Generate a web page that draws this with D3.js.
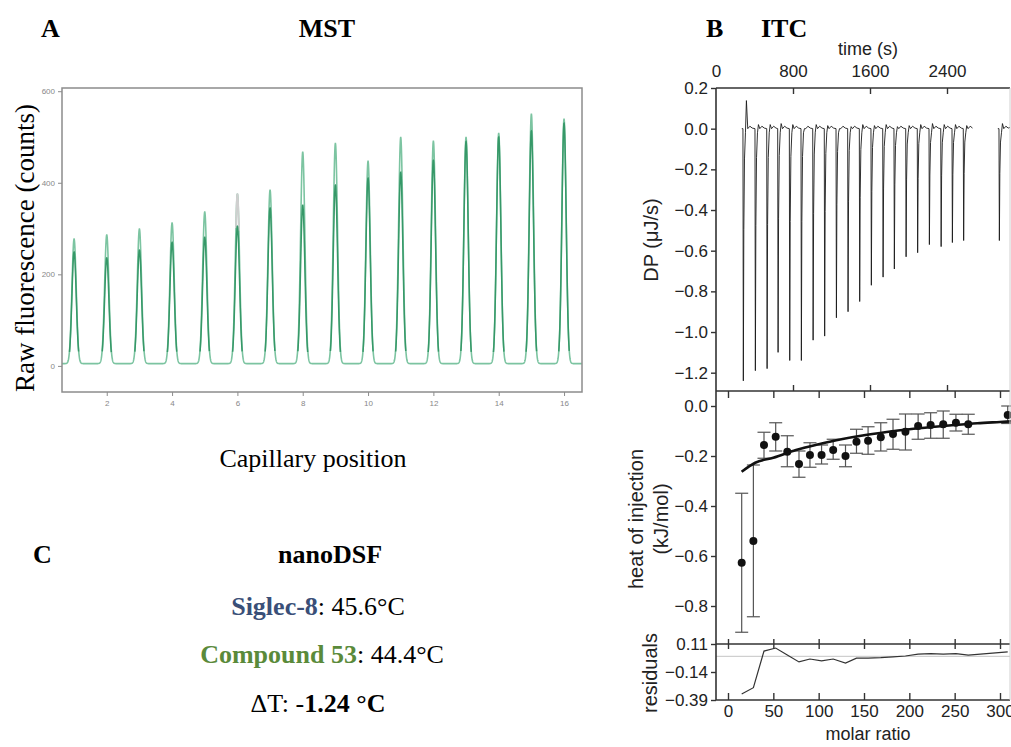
<!DOCTYPE html>
<html>
<head>
<meta charset="utf-8">
<script src="https://cdn.jsdelivr.net/npm/d3@7"></script>
<style>
  body { margin: 0; background: #fff; }
  svg { display: block; }
</style>
</head>
<body>
<svg id="fig" width="1011" height="747"></svg>
<script>
// ---- MST: raw fluorescence capillary scan ----
var capillary = [1, 2, 3, 4, 5, 6, 7, 8, 9, 10, 11, 12, 13, 14, 15, 16];
var peakOuter = [277, 286, 299, 312, 336, 375, 384, 467, 486, 447, 499, 491, 499, 508, 550, 539];
var peakInner = [249, 236, 253, 270, 281, 305, 345, 351, 395, 410, 423, 449, 490, 500, 513, 530];
var mstBase = 5;
var mstTicksY = [0, 200, 400, 600];
var mstTicksX = [2, 4, 6, 8, 10, 12, 14, 16];

// ---- ITC: thermogram ----
var injTime = [280, 405, 527, 641, 762, 883, 1005, 1125, 1247, 1368, 1489, 1610, 1732, 1849, 1971, 2091, 2213, 2335, 2452, 2569, 2940];
var injMin = [-1.24, -1.19, -1.18, -1.10, -1.14, -1.14, -1.04, -1.02, -0.93, -0.90, -0.85, -0.77, -0.73, -0.69, -0.63, -0.61, -0.57, -0.58, -0.56, -0.55, -0.55];
var injOver = [0.138, 0.02, 0.02, 0.025, 0.02, 0.0, 0.02, 0.015, 0.0, 0.01, 0.02, 0.015, 0.02, 0.01, 0.015, 0.02, 0.025, 0.02, 0.02, 0.015, 0.025];
var timeTicks = [0, 800, 1600, 2400];
var dpTicks = [0.2, 0.0, -0.2, -0.4, -0.6, -0.8, -1.0, -1.2];

// ---- ITC: integrated heats ----
var molarRatio = [15.1, 28, 39.7, 52.6, 65.4, 78.3, 90.4, 103.2, 116, 129.6, 141.7, 154.5, 168.5, 182, 195.7, 209.7, 223.5, 237.4, 251.4, 265, 308.5];
var heat = [-0.627, -0.54, -0.156, -0.123, -0.183, -0.232, -0.196, -0.196, -0.176, -0.2, -0.143, -0.139, -0.125, -0.112, -0.103, -0.08, -0.076, -0.073, -0.067, -0.073, -0.036];
var heatHi = [-0.349, -0.236, -0.105, -0.067, -0.119, -0.18, -0.147, -0.156, -0.133, -0.156, -0.093, -0.083, -0.067, -0.053, -0.032, -0.032, -0.027, -0.02, -0.033, -0.033, 0.0];
var heatLo = [-0.905, -0.843, -0.209, -0.18, -0.243, -0.285, -0.245, -0.232, -0.213, -0.243, -0.189, -0.193, -0.18, -0.173, -0.176, -0.133, -0.129, -0.129, -0.1, -0.113, -0.07];
var fitMr = [15, 30, 50, 75, 100, 125, 150, 175, 200, 225, 250, 275, 300, 315];
var fitHeat = [-0.263, -0.227, -0.207, -0.176, -0.153, -0.133, -0.117, -0.104, -0.093, -0.084, -0.076, -0.069, -0.064, -0.061];
var resid = [-0.336, -0.28, 0.047, 0.074, 0.012, -0.05, -0.024, -0.04, -0.024, -0.06, -0.016, -0.016, -0.012, -0.005, 0.003, 0.02, 0.024, 0.02, 0.024, 0.01, 0.04];
var heatTicks = [0.0, -0.2, -0.4, -0.6, -0.8];
var residTicks = [0.11, -0.14, -0.39];
var mrTicks = [0, 50, 100, 150, 200, 250, 300];

var svg = d3.select("#fig");
var serif = "'Liberation Serif', 'Times New Roman', serif";
var sans = "'Liberation Sans', Arial, sans-serif";

function label(g, x, y, txt, size, opts) {
    opts = opts || {};
    return g.append("text")
        .attr("x", x).attr("y", y)
        .attr("font-family", opts.family || serif)
        .attr("font-size", size)
        .attr("font-weight", opts.bold ? "bold" : null)
        .attr("text-anchor", opts.anchor || "start")
        .attr("fill", opts.fill || "#000")
        .text(txt);
}

// panel titles
label(svg, 41, 37, "A", 26, {bold: true});
label(svg, 327, 37, "MST", 26, {bold: true, anchor: "middle"});
label(svg, 706, 37, "B", 26, {bold: true});
label(svg, 761, 37, "ITC", 26, {bold: true});
label(svg, 33, 563, "C", 26, {bold: true});
label(svg, 330, 563, "nanoDSF", 26, {bold: true, anchor: "middle"});

// ===== MST panel =====
var mx = d3.scaleLinear().domain([0.63, 16.55]).range([62, 582]);
var my = d3.scaleLinear().domain([-57, 607]).range([392, 88]);
var sigma = 0.066;

function profile(x, heights) {
    var v = mstBase;
    capillary.forEach(function(p, i) {
        var d = x - p;
        if (Math.abs(d) < 0.5) v += (heights[i] - mstBase) * Math.exp(-d * d / (2 * sigma * sigma));
    });
    return v;
}

var xs = d3.range(0.63, 16.55, 0.004);
var mline = d3.line().x(function(d) { return mx(d[0]); }).y(function(d) { return my(d[1]); });

var mst = svg.append("g");
mst.append("path")
    .attr("d", mline(xs.map(function(x) { return [x, profile(x, peakOuter)]; })))
    .attr("fill", "none").attr("stroke", "#7cc4a1").attr("stroke-width", 1.6);

capillary.forEach(function(p, i) {
    var seg = d3.range(p - 0.2, p + 0.2, 0.003);
    if (p === 6) {
        // upper part of capillary 6 scan is grey
        mst.append("path")
            .attr("d", mline.defined(function(d) { return d[1] > peakInner[i] - 10; })(seg.map(function(x) { return [x, profile(x, peakOuter)]; })))
            .attr("fill", "none").attr("stroke", "#cfcfcf").attr("stroke-width", 1.8);
    }
    mst.append("path")
        .attr("d", mline.defined(function(d) { return d[1] > 30; })(seg.map(function(x) { return [x, profile(x, peakInner)]; })))
        .attr("fill", "none").attr("stroke", "#369868").attr("stroke-width", 1.5);
});
mline.defined(function() { return true; });

mst.append("rect")
    .attr("x", 62).attr("y", 88).attr("width", 520).attr("height", 304)
    .attr("fill", "none").attr("stroke", "#8c8c8c").attr("stroke-width", 1.5);

var myAxis = mst.append("g").attr("transform", "translate(62,0)")
    .call(d3.axisLeft(my).tickValues(mstTicksY).tickSize(4).tickPadding(3));
var mxAxis = mst.append("g").attr("transform", "translate(0,392)")
    .call(d3.axisBottom(mx).tickValues(mstTicksX).tickSize(4).tickPadding(4));
[myAxis, mxAxis].forEach(function(a) {
    a.select(".domain").remove();
    a.selectAll("line").attr("stroke", "#8c8c8c");
    a.selectAll("text").attr("font-size", 8).attr("fill", "#888").attr("font-family", sans);
});

label(mst, 313, 467, "Capillary position", 26, {anchor: "middle"});
label(mst, 0, 0, "Raw fluorescence (counts)", 27, {anchor: "middle"})
    .attr("transform", "translate(34,248) rotate(-90)");

// ===== nanoDSF text =====
function rich(y, cx, parts) {
    var t = svg.append("text").attr("x", cx).attr("y", y)
        .attr("font-family", serif).attr("font-size", 26).attr("text-anchor", "middle");
    parts.forEach(function(p) {
        t.append("tspan").attr("font-weight", p.bold ? "bold" : "normal")
            .attr("fill", p.fill || "#000").text(p.t);
    });
}
rich(615, 318, [{t: "Siglec-8", bold: true, fill: "#3a4f78"}, {t: ": 45.6°C"}]);
rich(663, 322, [{t: "Compound 53", bold: true, fill: "#5a8a3a"}, {t: ": 44.4°C"}]);
rich(712, 318, [{t: "ΔT: -"}, {t: "1.24 °C", bold: true}]);

// ===== ITC panel =====
var L = 716, R = 1010;
var tx = d3.scaleLinear().domain([0, 2400]).range([L, 947]);
var dy = d3.scaleLinear().domain([-1.29, 0.2]).range([391, 88]);
var rx = d3.scaleLinear().domain([0, 300]).range([728, 1000]);
var hy = d3.scaleLinear().domain([-0.952, 0.06]).range([644, 391]);
var ry = d3.scaleLinear().domain([-0.39, 0.11]).range([700, 644]);

var itc = svg.append("g");
var defs = svg.append("defs");
defs.append("clipPath").attr("id", "clipTop").append("rect")
    .attr("x", L).attr("y", 88).attr("width", R - L).attr("height", 303);
defs.append("clipPath").attr("id", "clipMid").append("rect")
    .attr("x", L).attr("y", 391).attr("width", R - L + 4).attr("height", 253);
defs.append("clipPath").attr("id", "clipRes").append("rect")
    .attr("x", L).attr("y", 644).attr("width", R - L).attr("height", 56);

// thermogram trace
var pts = [];
injTime.forEach(function(t0, i) {
    var m = injMin[i], o = injOver[i];
    if (i === 0 || t0 - injTime[i - 1] > 200) {
        if (i > 0) pts.push(null);
        pts.push([t0 - 12, 0.0]);
    }
    pts.push([t0, 0.0], [t0 + 4, m], [t0 + 9, m * 0.4], [t0 + 16, m * 0.12],
             [t0 + 26, -0.02], [t0 + 36, o], [t0 + 50, 0.0], [t0 + 72, 0.012], [t0 + 96, 0.003]);
    if (i === injTime.length - 1) pts.push([t0 + 140, 0.01]);
});
itc.append("path")
    .attr("clip-path", "url(#clipTop)")
    .attr("d", d3.line().defined(function(d) { return d !== null; })
        .x(function(d) { return tx(d[0]); }).y(function(d) { return dy(d[1]); })(pts))
    .attr("fill", "none").attr("stroke", "#1a1a1a").attr("stroke-width", 0.9);

// residual zero reference
itc.append("line").attr("x1", L).attr("x2", R).attr("y1", ry(0)).attr("y2", ry(0))
    .attr("stroke", "#c4c4c4").attr("stroke-width", 1);

// error bars and points
var mid = itc.append("g").attr("clip-path", "url(#clipMid)");
molarRatio.forEach(function(r, i) {
    var x = rx(r);
    mid.append("line").attr("x1", x).attr("x2", x).attr("y1", hy(heatHi[i])).attr("y2", hy(heatLo[i]))
        .attr("stroke", "#555").attr("stroke-width", 1.2);
    [heatHi[i], heatLo[i]].forEach(function(v) {
        mid.append("line").attr("x1", x - 6.5).attr("x2", x + 6.5).attr("y1", hy(v)).attr("y2", hy(v))
            .attr("stroke", "#555").attr("stroke-width", 1.2);
    });
});
mid.append("path")
    .attr("d", d3.line().curve(d3.curveMonotoneX)
        .x(function(d) { return rx(d); }).y(function(d, i) { return hy(fitHeat[i]); })(fitMr))
    .attr("fill", "none").attr("stroke", "#111").attr("stroke-width", 2.6);
mid.selectAll("circle").data(molarRatio).enter().append("circle")
    .attr("cx", function(d) { return rx(d); })
    .attr("cy", function(d, i) { return hy(heat[i]); })
    .attr("r", 4).attr("fill", "#111");

// residuals
itc.append("path")
    .attr("clip-path", "url(#clipRes)")
    .attr("d", d3.line().x(function(d) { return rx(d); }).y(function(d, i) { return ry(resid[i]); })(molarRatio))
    .attr("fill", "none").attr("stroke", "#333").attr("stroke-width", 1.2);

// frame
var frameCol = "#333";
[88, 391, 644, 700].forEach(function(y) {
    itc.append("line").attr("x1", L).attr("x2", R).attr("y1", y).attr("y2", y)
        .attr("stroke", frameCol).attr("stroke-width", 1.4);
});
itc.append("line").attr("x1", L).attr("x2", L).attr("y1", 88).attr("y2", 700)
    .attr("stroke", frameCol).attr("stroke-width", 1.6);
itc.append("line").attr("x1", R).attr("x2", R).attr("y1", 88).attr("y2", 700)
    .attr("stroke", "#d0d0d0").attr("stroke-width", 1);

function styleAxis(a) {
    a.select(".domain").remove();
    a.selectAll("line").attr("stroke", frameCol).attr("stroke-width", 1.4);
    a.selectAll("text").attr("font-size", 17).attr("fill", "#222").attr("font-family", sans);
    return a;
}

// time axis (top) and its inner ticks at the panel bottom
styleAxis(itc.append("g").attr("transform", "translate(0,88)")
    .call(d3.axisTop(tx).tickValues(timeTicks).tickSize(-6).tickPadding(11).tickFormat(d3.format("d"))))
    .selectAll(".tick").filter(function(d) { return d === 0; }).select("line").remove();
styleAxis(itc.append("g").attr("transform", "translate(0,391)")
    .call(d3.axisBottom(tx).tickValues(timeTicks.slice(1)).tickSize(-6).tickFormat("")));

// molar ratio ticks
styleAxis(itc.append("g").attr("transform", "translate(0,391)")
    .call(d3.axisBottom(rx).tickValues(mrTicks).tickSize(7).tickFormat("")));
styleAxis(itc.append("g").attr("transform", "translate(0,644)")
    .call(d3.axisBottom(rx).tickValues(mrTicks).tickSize(5).tickFormat("")));
styleAxis(itc.append("g").attr("transform", "translate(0,644)")
    .call(d3.axisTop(rx).tickValues(mrTicks).tickSize(5).tickFormat("")));
styleAxis(itc.append("g").attr("transform", "translate(0,700)")
    .call(d3.axisBottom(rx).tickValues(mrTicks).tickSize(-7).tickPadding(5)));

// left axes
styleAxis(itc.append("g").attr("transform", "translate(" + L + ",0)")
    .call(d3.axisLeft(dy).tickValues(dpTicks).tickSize(5).tickPadding(3).tickFormat(d3.format(".1f"))));
styleAxis(itc.append("g").attr("transform", "translate(" + L + ",0)")
    .call(d3.axisLeft(hy).tickValues(heatTicks).tickSize(5).tickPadding(3).tickFormat(d3.format(".1f"))));
styleAxis(itc.append("g").attr("transform", "translate(" + L + ",0)")
    .call(d3.axisLeft(ry).tickValues(residTicks).tickSize(5).tickPadding(3).tickFormat(d3.format(".2f"))));

// ITC axis titles
label(itc, 868, 55, "time (s)", 18, {family: sans, anchor: "middle", fill: "#222"});
label(itc, 868, 740, "molar ratio", 18, {family: sans, anchor: "middle", fill: "#222"});
label(itc, 0, 0, "DP (μJ/s)", 20, {family: sans, anchor: "middle", fill: "#222"})
    .attr("transform", "translate(658,240) rotate(-90)");
label(itc, 0, 0, "heat of injection", 20, {family: sans, anchor: "middle", fill: "#222"})
    .attr("transform", "translate(643,519) rotate(-90)");
label(itc, 0, 0, "(kJ/mol)", 20, {family: sans, anchor: "middle", fill: "#222"})
    .attr("transform", "translate(668,519) rotate(-90)");
label(itc, 0, 0, "residuals", 20, {family: sans, anchor: "middle", fill: "#222"})
    .attr("transform", "translate(657,673) rotate(-90)");
</script>
</body>
</html>
